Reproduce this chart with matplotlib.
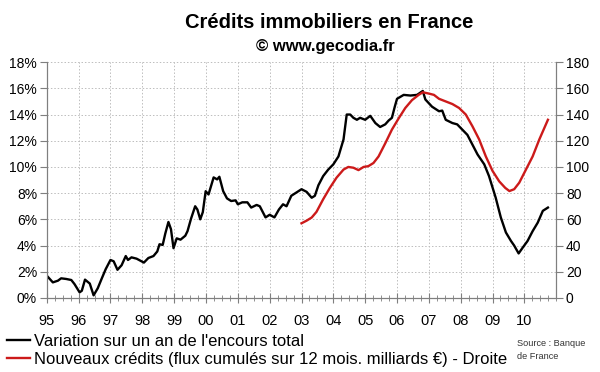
import numpy as np
import matplotlib as mpl
import matplotlib.pyplot as plt
import matplotlib.transforms as mtransforms
from matplotlib.ticker import MultipleLocator, FuncFormatter

mpl.rcParams.update({
    "font.family": ["Liberation Sans", "DejaVu Sans"],
    "font.size": 10,
})
C_BLACK = "#000000"; C_RED = "#CC1A1A"; C_AXIS = "#7F7F7F"; C_GRID = "#BDBDBD"

# Variation sur un an de l'encours total (%), left axis
encours_t = [1995.0, 1995.19, 1995.35, 1995.45, 1995.61, 1995.77, 1995.87, 1996.03, 1996.1,
             1996.2, 1996.35, 1996.47, 1996.6, 1996.72, 1996.85, 1997.0, 1997.1, 1997.22,
             1997.35, 1997.48, 1997.55, 1997.66, 1997.82, 1998.05, 1998.19, 1998.35, 1998.47,
             1998.54, 1998.64, 1998.72, 1998.82, 1998.9, 1998.98, 1999.08, 1999.2, 1999.35,
             1999.42, 1999.53, 1999.66, 1999.73, 1999.82, 1999.9, 1999.99, 2000.08, 2000.24,
             2000.35, 2000.42, 2000.54, 2000.66, 2000.79, 2000.93, 2001.0, 2001.14, 2001.3,
             2001.42, 2001.59, 2001.69, 2001.87, 2002.0, 2002.15, 2002.29, 2002.42, 2002.53,
             2002.68, 2002.84, 2003.0, 2003.16, 2003.32, 2003.42, 2003.53, 2003.68, 2003.84,
             2004.0, 2004.16, 2004.32, 2004.42, 2004.53, 2004.63, 2004.74, 2004.84, 2005.0,
             2005.16, 2005.32, 2005.47, 2005.63, 2005.74, 2005.84, 2005.93, 2006.0, 2006.21,
             2006.42, 2006.63, 2006.81, 2006.89, 2007.1, 2007.32, 2007.42, 2007.53, 2007.74,
             2007.89, 2008.05, 2008.21, 2008.37, 2008.53, 2008.74, 2008.89, 2009.1, 2009.26,
             2009.42, 2009.58, 2009.68, 2009.82, 2009.95, 2010.1, 2010.26, 2010.42, 2010.58,
             2010.74]
encours_v = [1.70, 1.19, 1.32, 1.50, 1.45, 1.37, 1.06, 0.43, 0.55,
             1.40, 1.10, 0.20, 0.74, 1.45, 2.20, 2.90, 2.80, 2.15,
             2.50, 3.20, 2.90, 3.10, 3.00, 2.70, 3.05, 3.20, 3.55,
             4.10, 4.05, 4.90, 5.80, 5.25, 3.80, 4.55, 4.45, 4.75,
             5.10, 6.05, 7.00, 6.75, 6.00, 6.55, 8.15, 7.90, 9.20,
             9.05, 9.25, 8.15, 7.60, 7.40, 7.45, 7.15, 7.30, 7.30,
             6.90, 7.10, 7.00, 6.15, 6.35, 6.15, 6.75, 7.15, 7.00,
             7.80, 8.05, 8.30, 8.10, 7.65, 7.80, 8.60, 9.30, 9.80,
             10.2, 10.8, 12.1, 14.0, 14.0, 13.75, 13.6, 13.75, 13.6,
             13.9, 13.35, 13.05, 13.25, 13.55, 13.75, 14.6, 15.2, 15.5,
             15.45, 15.5, 15.8, 15.15, 14.6, 14.25, 14.3, 13.6, 13.35,
             13.25, 12.85, 12.45, 11.7, 10.95, 10.2, 9.3, 7.65, 6.15,
             5.0, 4.35, 4.0, 3.4, 3.85, 4.35, 5.1, 5.75, 6.65,
             6.9]

# Nouveaux crédits, flux cumulés sur 12 mois (milliards EUR), right axis
credits_t = [2003.0, 2003.16, 2003.32, 2003.47, 2003.68, 2003.89, 2004.1, 2004.32, 2004.47,
             2004.63, 2004.79, 2004.95, 2005.1, 2005.26, 2005.42, 2005.63, 2005.84, 2006.05,
             2006.26, 2006.47, 2006.68, 2006.81, 2007.0, 2007.16, 2007.32, 2007.53, 2007.74,
             2007.95, 2008.16, 2008.37, 2008.58, 2008.79, 2009.0, 2009.21, 2009.4, 2009.53,
             2009.68, 2009.84, 2010.05, 2010.26, 2010.47, 2010.74]
credits_v = [57, 59, 61.4, 65.7, 75.3, 84, 91.8, 98, 100,
             99.4, 97.6, 100, 100.6, 103, 108, 118, 128.5, 137,
             145, 151, 155, 157, 156, 155, 152, 150, 148,
             145, 140, 131, 121, 108, 97, 89, 84, 81.6,
             83, 88, 98, 108, 121, 136]

years = list(range(1995, 2011))
year_labels = ["%02d" % (y % 100) for y in years]

fig = plt.figure(figsize=(6.0, 3.72), dpi=100)
ax = fig.add_axes([0.078, 0.199, 0.849, 0.634])
ax2 = ax.twinx()

l1, = ax.plot(encours_t, encours_v, color=C_BLACK, lw=1.7, zorder=4)
l2, = ax2.plot(credits_t, credits_v, color=C_RED, lw=1.7, zorder=4)

ax.set_xlim(1995, 2011)
ax.set_ylim(0, 18)
ax2.set_ylim(0, 180)
ax.yaxis.set_major_locator(MultipleLocator(2))
ax.yaxis.set_major_formatter(FuncFormatter(lambda v, p: "%d%%" % v))
ax2.yaxis.set_major_locator(MultipleLocator(20))
ax.set_xticks(years)
ax.set_xticklabels(year_labels)
ax.xaxis.set_minor_locator(MultipleLocator(0.25))
shift = mtransforms.ScaledTranslation(0.025, 0, fig.dpi_scale_trans)
for lab in ax.get_xticklabels():
    lab.set_transform(lab.get_transform() + shift)

for a in (ax, ax2):
    for s in a.spines.values():
        s.set_color(C_AXIS)
    a.spines["top"].set_visible(False)
ax.tick_params(axis="y", direction="out", length=5, color=C_AXIS, labelsize=10, pad=2)
ax2.tick_params(axis="y", direction="out", length=5, color=C_AXIS, labelsize=10, pad=2)
ax.tick_params(axis="x", which="major", direction="inout", length=7, color=C_AXIS,
               labelsize=10.5, pad=8)
ax.tick_params(axis="x", which="minor", direction="inout", length=5, color=C_AXIS)

ax.grid(True, which="major", color=C_GRID, ls=(0, (1.5, 2)), lw=0.7)
ax.set_axisbelow(True)

fig.text(0.549, 0.94, "Crédits immobiliers en France", ha="center", va="center",
         fontsize=14.5, fontweight="bold")
fig.text(0.543, 0.874, "© www.gecodia.fr", ha="center", va="center",
         fontsize=12, fontweight="bold")

fig.legend([l1, l2],
           ["Variation sur un an de l'encours total",
            "Nouveaux crédits (flux cumulés sur 12 mois. milliards €) - Droite"],
           loc="upper left", bbox_to_anchor=(0.012, 0.102), frameon=False,
           fontsize=12, handlelength=1.35, handletextpad=0.25, labelspacing=0.18,
           borderpad=0.0, borderaxespad=0.0)
fig.text(0.862, 0.059, "Source : Banque\nde France", ha="left", va="center",
         fontsize=6.6, linespacing=1.5, color="#333333")

fig.savefig("out.png", dpi=100)
